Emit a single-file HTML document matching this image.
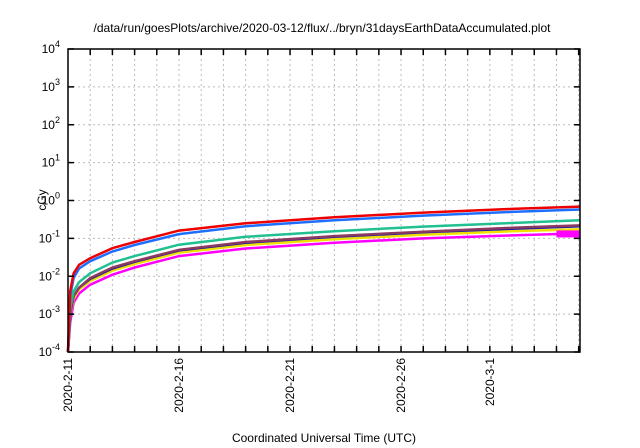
<!DOCTYPE html>
<html><head><meta charset="utf-8"><style>
body{margin:0;background:#fff;}
svg{display:block;font-family:"Liberation Sans",sans-serif;}
</style></head><body>
<svg id="c" width="640" height="448">
<text x="322" y="32" font-size="12" text-anchor="middle">/data/run/goesPlots/archive/2020-03-12/flux/../bryn/31daysEarthDataAccumulated.plot</text>
<text transform="translate(46,200) rotate(-90)" font-size="12" text-anchor="middle">cGy</text>
<text x="324" y="442" font-size="12" text-anchor="middle">Coordinated Universal Time (UTC)</text>
<g id="grid"></g><g id="series"></g><g id="axes"></g>
</svg>
<script>
const days=[0,0.1,0.25,0.5,1,2,3,5,8,12,16,20,23.06];
const red=[0.0001,0.004,0.012,0.02,0.03,0.055,0.08,0.16,0.25,0.36,0.48,0.60,0.69];
const blue=[0.0001,0.003,0.009,0.016,0.025,0.045,0.067,0.13,0.21,0.30,0.40,0.50,0.58];
const green=[0.0001,0.0015,0.004,0.007,0.012,0.023,0.034,0.068,0.11,0.155,0.205,0.255,0.30];
const maroon=[0.0001,0.001,0.003,0.005,0.009,0.017,0.025,0.05,0.08,0.115,0.15,0.19,0.22];
const navy=[0.0001,0.001,0.003,0.005,0.0085,0.016,0.024,0.048,0.077,0.11,0.145,0.18,0.21];
const yellow=[0.0001,0.0009,0.0025,0.0045,0.0075,0.014,0.021,0.042,0.067,0.095,0.125,0.155,0.175];
const magenta=[0.0001,0.0006,0.002,0.0035,0.006,0.011,0.017,0.034,0.054,0.077,0.1,0.12,0.135];
const yTickExp=[-4,-3,-2,-1,0,1,2,3,4];
const xLabels=["2020-2-11","2020-2-16","2020-2-21","2020-2-26","2020-3-1"];
const xLabelDays=[0,5,10,15,19];
const L=68,R=580,T=49,B=352,D0=0,D1=23.06;
const X=d=>L+(d-D0)/(D1-D0)*(R-L);
const Y=v=>B-(Math.log10(v)+4)/8*(B-T);
const NS="http://www.w3.org/2000/svg";
function mk(t,a,p){const e=document.createElementNS(NS,t);for(const k in a)e.setAttribute(k,a[k]);p.appendChild(e);return e;}
const g=document.getElementById('grid'),ax=document.getElementById('axes'),s=document.getElementById('series');
for(let d=1;d<=23;d++){const x=X(d);
 const l=mk('line',{x1:x,x2:x,y1:T,y2:B,stroke:'#bbb','stroke-dasharray':'2,3','stroke-width':1},g);
 
 const t1=mk('line',{x1:x,x2:x,y1:B,y2:B-6,stroke:'#000','stroke-width':1.5},ax);
 
 const t2=mk('line',{x1:x,x2:x,y1:T,y2:T+6,stroke:'#000','stroke-width':1.5},ax);
 }
yTickExp.forEach(e=>{const y=Y(Math.pow(10,e));
 if(e>-4&&e<4){const l=mk('line',{x1:L,x2:R,y1:y,y2:y,stroke:'#bbb','stroke-dasharray':'2,3','stroke-width':1},g);
 }
 const t1=mk('line',{x1:L,x2:L+6,y1:y,y2:y,stroke:'#000','stroke-width':1.5},ax);
 
 const t2=mk('line',{x1:R,x2:R-6,y1:y,y2:y,stroke:'#000','stroke-width':1.5},ax);
 
 const tx=mk('text',{x:L-8,y:y+4,'font-size':12,'text-anchor':'end'},ax);
 
 tx.innerHTML='10<tspan dy="-6" font-size="9">'+e+'</tspan>';});
xLabels.forEach((lab,i)=>{const x=X(xLabelDays[i]);
 const tx=mk('text',{transform:`translate(${x+4},${B+6}) rotate(-90)`,'font-size':12,'text-anchor':'end'},ax);
 tx.textContent=lab;});
const fr=mk('rect',{x:L,y:T,width:R-L,height:B-T,fill:'none',stroke:'#000','stroke-width':1.5},ax);

const series=[[magenta,'#ff00ff','magenta'],[yellow,'#f0e000','yellow'],[navy,'#1a1aa0','navy'],[maroon,'#8b3a62','maroon'],[green,'#20c090','green'],[blue,'#1e6fff','blue'],[red,'#ee0000','red']];
series.forEach(([vals,c,n])=>{
 const p=mk('path',{d:vals.map((v,i)=>(i?'L':'M')+X(days[i]).toFixed(1)+','+Y(v).toFixed(1)).join(''),fill:'none',stroke:c,'stroke-width':2.5},s);
 });
const last=magenta[magenta.length-1];
const blk=mk('rect',{x:X(22),y:Y(last)-3,width:X(D1)-X(22),height:7,fill:'#ff00ff'},s);

</script>
</body></html>
